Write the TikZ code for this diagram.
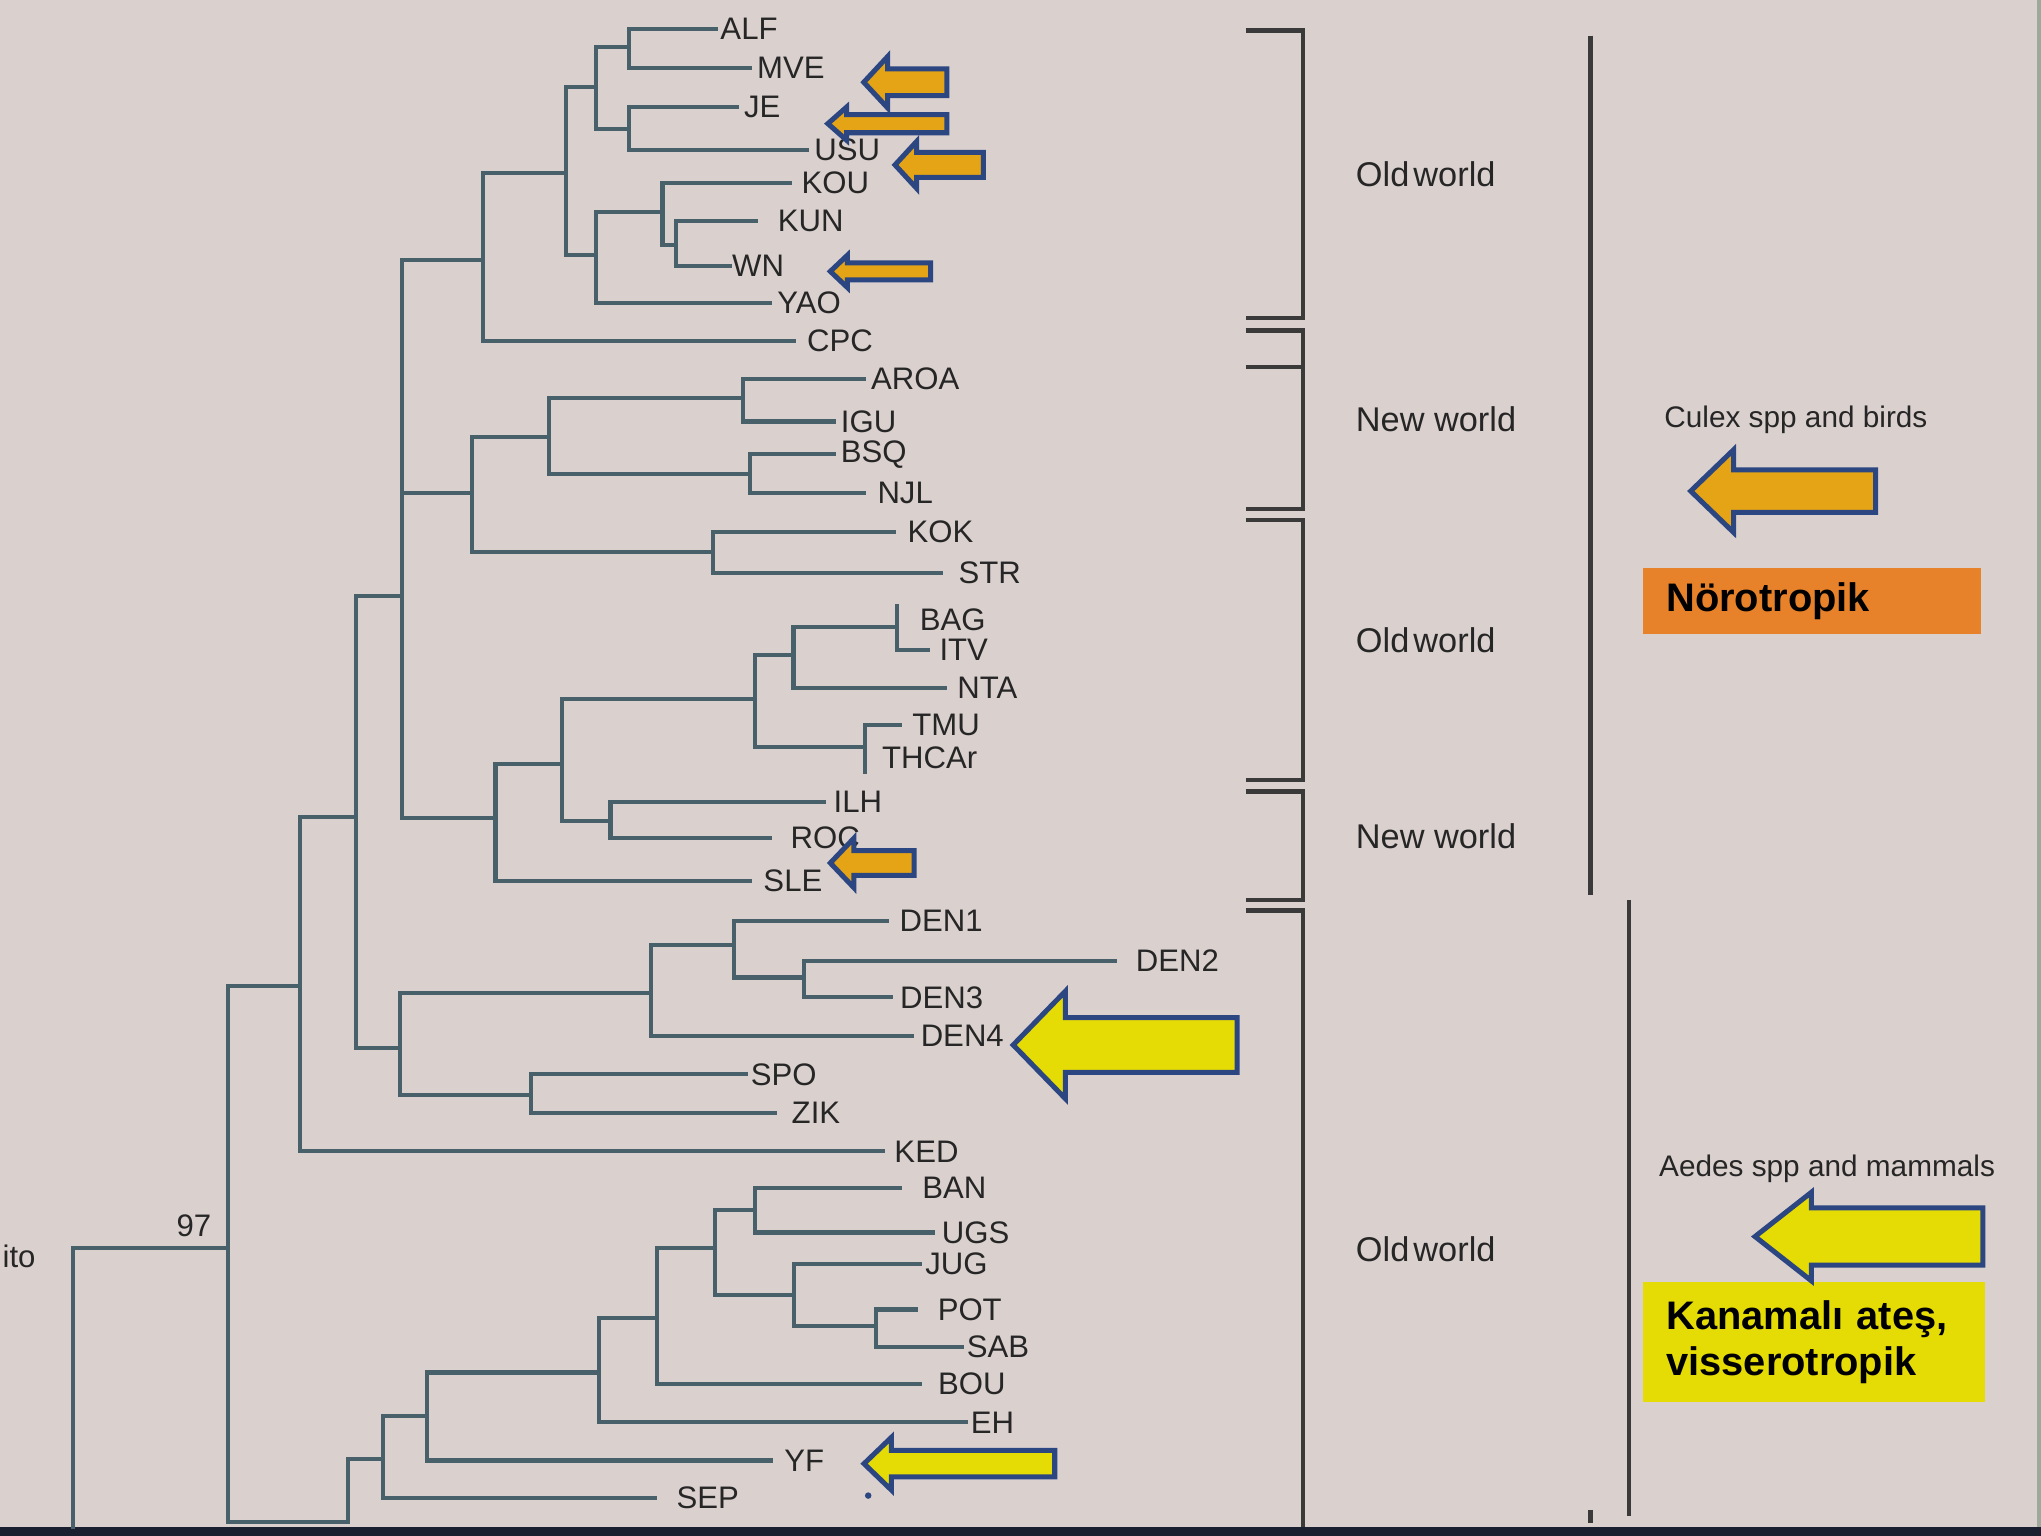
\documentclass[tikz,border=0pt]{standalone}
\usepackage{fontspec}
\setmainfont{Liberation Sans}
\usepackage{tikz}

\definecolor{bgpaper}{RGB}{218,209,207}
\definecolor{treeline}{RGB}{72,96,106}
\definecolor{bracketgray}{RGB}{58,58,58}
\definecolor{labelgray}{RGB}{38,38,38}
\definecolor{arrowblue}{RGB}{44,70,130}
\definecolor{neurogold}{RGB}{228,164,22}
\definecolor{neuroorange}{RGB}{232,130,42}
\definecolor{viscyellow}{RGB}{229,220,6}
\definecolor{screenbar}{RGB}{26,32,48}
\definecolor{edgegreen}{RGB}{158,168,156}

\newcommand{\leaffont}{\fontsize{6.8}{8}\selectfont}
\newcommand{\regionfont}{\fontsize{7.5}{9}\selectfont}
\newcommand{\hostfont}{\fontsize{6.5}{8}\selectfont}
\newcommand{\boxfont}{\fontsize{8.7}{9.9}\selectfont\bfseries}

% tip x, centre y, head base x, tail x, head half height, shaft half height, fill
\newcommand{\pointer}[7]{%
  \draw[pointerline, fill=#7] (#1,#2) -- (#3,#2-#5) -- (#3,#2-#6) -- (#4,#2-#6)
    -- (#4,#2+#6) -- (#3,#2+#6) -- (#3,#2+#5) -- cycle;}

\begin{document}
\begin{tikzpicture}[
    x=0.01cm, y=-0.01cm,
    branch/.style={draw=treeline, line width=0.9pt, line cap=rect},
    leaf/.style={anchor=west, inner ysep=0.5pt, font=\leaffont, text=labelgray},
    bracket/.style={draw=bracketgray, line width=1pt},
    region/.style={anchor=west, inner sep=0pt, font=\regionfont, text=labelgray},
    host/.style={anchor=west, inner sep=0pt, font=\hostfont, text=labelgray},
    tagbox/.style={anchor=north west, inner xsep=0.177cm, inner ysep=0pt, align=left, font=\boxfont, text=black},
    pointerline/.style={draw=arrowblue, line width=1.1pt, line join=miter}
]
    \useasboundingbox (0,0) rectangle (1568,1180);
    \fill[bgpaper] (0,0) rectangle (1568,1180);
    \fill[screenbar] (0,1173) rectangle (1568,1180);
    \fill[edgegreen] (1565,0) rectangle (1568,1173);

    % brackets
    \draw[bracket] (957,23.3) -- (1001,23.3) -- (1001,244.2) -- (957,244.2);
    \draw[bracket] (957,253.8) -- (1001,253.8) -- (1001,391) -- (957,391);
    \draw[bracket] (957,282) -- (1001,282);
    \draw[bracket] (957,399.6) -- (1001,399.6) -- (1001,599.2) -- (957,599.2);
    \draw[bracket] (957,608.3) -- (1001,608.3) -- (1001,691.4) -- (957,691.4);
    \draw[bracket] (957,699.6) -- (1001,699.6) -- (1001,1173);
    \draw[bracket] (1221.8,27.4) -- (1221.8,687.3);
    \draw[bracket] (1251.5,691.4) -- (1251.5,1164.5);
    \draw[bracket] (1221.8,1160) -- (1221.8,1170);

    \node[region] (old1) at (1041,133.8) {Old\hspace{0.12em}world};
    \node[region] (new1) at (1041,322.4) {New world};
    \node[region] (old2) at (1041,492) {Old\hspace{0.12em}world};
    \node[region] (new2) at (1041,642.3) {New world};
    \node[region] (old3) at (1041,959.7) {Old\hspace{0.12em}world};

    \node[host] (culex) at (1278,322.4) {Culex spp and birds};
    \node[host] (aedes) at (1274,898.2) {Aedes spp and mammals};

    \node[tagbox, fill=neuroorange, minimum height=0.508cm, text width=2.242cm] (neuro) at (1261.8,435.6) {Nörotropik};
    \node[tagbox, fill=viscyellow, minimum height=0.921cm, text width=2.271cm] (visc) at (1261.8,984.3) {Kanamalı ateş,\\visserotropik};

    % leaves
    \foreach \n/\x/\y/\g/\t in {
        alf/550/22.5/0.8/ALF, mve/576/52/1.4/MVE, je/566/82.3/1.4/JE, usu/620/115/1.4/USU,
        kou/607/140.5/2.3/KOU, kun/581/170/4.5/KUN, wn/560.7/204.4/0.3/WN, yao/591.6/232.7/1.4/YAO,
        cpc/609.6/262/2.8/CPC, aroa/663.6/290.9/1.4/AROA, igu/640.4/323.8/1.4/IGU, bsq/640.4/349/1.4/BSQ,
        njl/663.6/378.7/2.8/NJL, kok/686.7/408.9/2.8/KOK, str/722.7/440.3/3.7/STR, itv/713/499.4/2.3/ITV,
        nta/726/528.5/2.5/NTA, tmu/691.4/557/2.5/TMU, ilh/632.7/616/2/ILH, roc/591.6/644/4.3/ROC,
        sle/576/677/2.8/SLE, dena/681.6/707.6/2.5/DEN1, denb/856.8/738.1/4.3/DEN2, denc/684.8/766.2/1.7/DEN3,
        dend/700.7/795.8/1.7/DEN4, spo/573.3/825.4/0.8/SPO, zik/595.6/855/3.4/ZIK, ked/678.4/884.6/2.3/KED,
        ban/691/912.6/4.8/BAN, ugs/716.6/946.9/1.8/UGS, jug/707/971.2/0.9/JUG, pot/703.9/1006/4.5/POT,
        sab/739/1034.8/0.9/SAB, bou/707/1063/3.7/BOU, eh/742/1092.7/0.9/EH, yf/592.4/1122/2.7/YF,
        sep/503.2/1151/4.5/SEP}
        \node[leaf, inner xsep=\g pt] (\n) at (\x,\y) {\t};
    \node[leaf, inner xsep=0pt] (baglbl) at (706,476) {BAG};
    \node[leaf, inner xsep=0pt] (thcarlbl) at (677,582) {THCAr};
    \node[leaf, anchor=center, inner sep=0pt] (boot) at (149,942) {97};
    \node[leaf, anchor=east, inner sep=0pt] (ito) at (28,965) {ito};

    % internal nodes
    \coordinate (a1) at (483.5,36);
    \coordinate (a2) at (483.5,98.8);
    \coordinate (a3) at (458,67);
    \coordinate (a4) at (519.5,188);
    \coordinate (a5) at (509,163);
    \coordinate (a6) at (458,196);
    \coordinate (a7) at (434.7,133);
    \coordinate (a8) at (371.4,199.5);
    \coordinate (b1) at (571,306);
    \coordinate (b2) at (576,364);
    \coordinate (b3) at (421.8,336);
    \coordinate (b4) at (547.8,424);
    \coordinate (b5) at (362.6,379);
    \coordinate (c1) at (689.3,481.5);
    \coordinate (bag) at (689.3,466);
    \coordinate (c2) at (609.6,503);
    \coordinate (c3) at (664.5,573.6);
    \coordinate (thcar) at (664.5,592.8);
    \coordinate (c4) at (580.2,537);
    \coordinate (c5) at (469,631);
    \coordinate (c6) at (431.5,586.7);
    \coordinate (c7) at (380.7,628.6);
    \coordinate (d1) at (308.6,458);
    \coordinate (e1) at (617.9,751);
    \coordinate (e2) at (563.7,726);
    \coordinate (e3) at (500,763);
    \coordinate (e4) at (407.7,841);
    \coordinate (e5) at (307,805);
    \coordinate (f1) at (273.5,627.4);
    \coordinate (f2) at (230.5,757.5);
    \coordinate (g1) at (579.7,929.8);
    \coordinate (g2) at (673.3,1019);
    \coordinate (g3) at (610.2,995.2);
    \coordinate (g4) at (549,958.5);
    \coordinate (g5) at (504.5,1012.3);
    \coordinate (g6) at (460,1054.4);
    \coordinate (g7) at (328,1087.7);
    \coordinate (g8) at (294.3,1121);
    \coordinate (g9) at (267.5,1169);
    \coordinate (h) at (175.4,958.9);
    \coordinate (root) at (56.4,958.9);
    \coordinate (rootcut) at (56.4,1173);

    \foreach \p/\c in {a1/alf, a1/mve, a2/je, a2/usu, a3/a1, a3/a2, a4/kun, a4/wn, a5/kou, a5/a4,
        a6/a5, a6/yao, a7/a3, a7/a6, a8/a7, a8/cpc,
        b1/aroa, b1/igu, b2/bsq, b2/njl, b3/b1, b3/b2, b4/kok, b4/str, b5/b3, b5/b4,
        c1/bag, c1/itv, c2/c1, c2/nta, c3/tmu, c3/thcar, c4/c2, c4/c3, c5/ilh, c5/roc,
        c6/c4, c6/c5, c7/c6, c7/sle, d1/a8, d1/b5, d1/c7,
        e1/denb, e1/denc, e2/dena, e2/e1, e3/e2, e3/dend, e4/spo, e4/zik, e5/e3, e5/e4,
        f1/d1, f1/e5, f2/f1, f2/ked,
        g1/ban, g1/ugs, g2/pot, g2/sab, g3/jug, g3/g2, g4/g1, g4/g3, g5/g4, g5/bou,
        g6/g5, g6/eh, g7/g6, g7/yf, g8/g7, g8/sep, g9/g8,
        h/f2, h/g9, root/h, root/rootcut}
        \draw[branch] (\p) |- (\c);

    \fill[arrowblue] (667,1149) circle (2.5);

    % pointers
    \pointer{663.6}{63.2}{682}{727.5}{19.8}{10.3}{neurogold}
    \pointer{636}{95}{650.5}{727.5}{12.8}{7}{neurogold}
    \pointer{687.6}{126.7}{704.2}{755.4}{18}{9.6}{neurogold}
    \pointer{637.9}{208.5}{651}{715}{12.4}{6.5}{neurogold}
    \pointer{637.9}{663}{656}{702.2}{19}{9.5}{neurogold}
    \pointer{1298.9}{377.3}{1331.8}{1441}{31.7}{16.3}{neurogold}
    \pointer{778.4}{802.8}{818.5}{950.4}{41.3}{21}{viscyellow}
    \pointer{663.8}{1124.5}{684.8}{810.3}{20.2}{10.2}{viscyellow}
    \pointer{1348.3}{950}{1391.6}{1523.4}{34}{22}{viscyellow}
\end{tikzpicture}
\end{document}
